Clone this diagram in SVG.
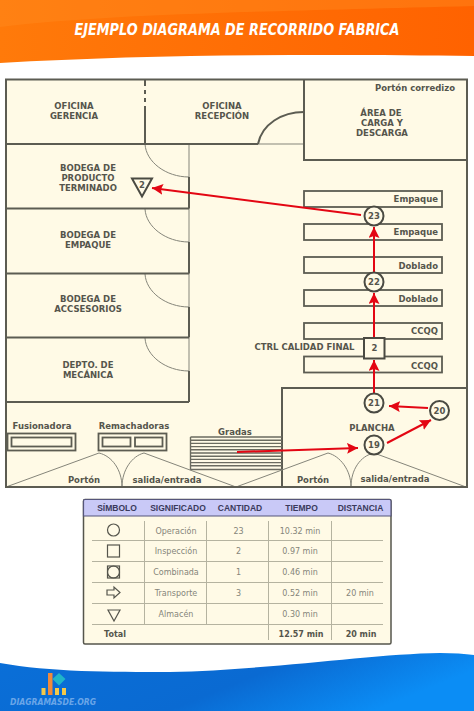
<svg xmlns="http://www.w3.org/2000/svg" width="474" height="711" viewBox="0 0 474 711">
<style>
text{font-family:"DejaVu Sans","Liberation Sans",sans-serif;}
.l{font-size:8.500px;font-weight:700;fill:#55554c;text-anchor:middle;}
.r{text-anchor:end;}
.w{fill:none;stroke:#5c5c52;stroke-width:2;}
.t{fill:none;stroke:#85857a;stroke-width:1;}
.n{fill:#fffae6;stroke:#4a4a42;stroke-width:2;}
.f{stroke:#e30613;stroke-width:2;fill:none;marker-end:url(#a);}
.h{font-family:"Liberation Sans",Arial,sans-serif;font-size:8.500px;font-weight:700;fill:#3a3a5c;text-anchor:middle;}
.c{font-size:8px;fill:#85857a;text-anchor:middle;}
.b{font-size:8px;font-weight:700;fill:#55554c;text-anchor:middle;}
.g{stroke:#b5b3a0;stroke-width:1;fill:none;}
.s{fill:none;stroke:#55554c;stroke-width:1.200;}
</style>
<defs>
<linearGradient id="o" x1="0" y1="0" x2="1" y2="0"><stop offset="0" stop-color="#ff7a0a"/><stop offset="1" stop-color="#ff6200"/></linearGradient>
<linearGradient id="u" x1="0" y1="0" x2="1" y2="0.3"><stop offset="0" stop-color="#0a6fd8"/><stop offset="0.6" stop-color="#0a6ad2"/><stop offset="1" stop-color="#0b8df5"/></linearGradient>
<marker id="a" markerUnits="userSpaceOnUse" markerWidth="12" markerHeight="12" refX="11" refY="5.500" orient="auto"><path d="M0 0L11 5.500L0 11L2 5.500Z" fill="#e30613"/></marker>
</defs>
<rect width="474" height="711" fill="#fff"/>
<g id="banner">
<path d="M0 0H474V56C330 54 150 54 0 63Z" fill="url(#o)"/>
<path d="M0 27C110 14 250 12 474 6V0H0Z" fill="#ff8a1e" opacity=".45"/>
<text x="237" y="35" text-anchor="middle" font-size="15" font-weight="700" font-style="italic" fill="#fff" textLength="325" lengthAdjust="spacingAndGlyphs">EJEMPLO DIAGRAMA DE RECORRIDO FABRICA</text>
</g>
<g id="footer">
<path d="M0 663C50 672 110 672 170 672C270 670 370 654 440 653Q460 653 474 655V711H0Z" fill="url(#u)"/>
<g>
<rect x="41.500" y="688" width="4" height="7" fill="#f4c84a"/>
<rect x="48" y="673" width="4.500" height="22" fill="#f08a3c"/>
<rect x="55" y="688" width="4" height="7" fill="#f4c84a"/>
<rect x="62" y="688" width="4" height="7" fill="#f4c84a"/>
<path d="M59 673L65.500 679L59 685.500L52.500 679Z" fill="#1fb5c9"/>
</g>
<text x="53" y="705" text-anchor="middle" font-size="8" font-weight="700" font-style="italic" fill="#6aa6e8" textLength="86" lengthAdjust="spacingAndGlyphs">DIAGRAMASDE.ORG</text>
</g>
<g id="plano">
<rect x="6" y="79.500" width="461" height="407.500" fill="#fffae6"/>
<g id="puertas">
<path class="t" d="M258 144H304M189 144V177M189 208V242M189 273V307M189 338V371"/>
<path class="t" d="M145 144C146 162 166 177 189 177M145 209C146 227 166 242 189 242M145 274C146 292 166 307 189 307M145 338C146 356 166 371 189 371"/>
<path class="w" d="M258 144C262 124 282 112 304 112"/>
</g>
<path class="w" d="M6 144H258M145 79.500V86M145 90V94M145 98V102M145 106V144M304 79.500V160H467M6 208.500H189M6 273.500H189M6 337.500H189M6 402H189M189 177V208.500M189 242V273.500M189 307V337.500M189 371V402M282 487V388H467"/>
<g id="gradas" stroke="#6b6b60" stroke-width="1.400">
<path d="M190.500 437H282M190.500 440.200H282M190.500 443.400H282M190.500 446.600H282M190.500 449.800H282M190.500 453H282M190.500 456.200H282M190.500 459.400H282M190.500 462.600H282M190.500 465.800H282M190.500 469.500H282M190.500 437V470"/>
</g>
<g id="portones">
<path class="t" d="M6 487L99 453C112 456 122 470 122 487C122 470 132 456 144 453L236 487L328 453C340 456 351 470 351 487C351 470 360 456 374 453L466 487"/>
</g>
<g id="estaciones" fill="none" stroke="#5c5c52" stroke-width="1.800">
<rect x="304" y="191" width="138" height="16"/>
<rect x="304" y="224" width="138" height="16"/>
<rect x="304" y="257" width="138" height="16"/>
<rect x="304" y="290" width="138" height="16"/>
<rect x="304" y="323" width="138" height="16"/>
<rect x="304" y="356.500" width="138" height="16"/>
</g>
<g id="maquinas" fill="none" stroke="#5c5c52" stroke-width="1.800">
<rect x="7.500" y="433.500" width="68" height="17"/><rect x="11.500" y="437.500" width="60" height="9"/>
<rect x="98.500" y="433.500" width="68" height="17"/><rect x="102.500" y="437.500" width="28" height="9"/><rect x="135" y="437.500" width="27.500" height="9"/>
</g>
<rect x="6" y="79.500" width="461" height="407.500" class="w"/>
<g>
<text class="l r" x="455" y="90.500">Portón corredizo</text>
<text class="l" x="74" y="109">OFICINA</text><text class="l" x="74" y="119">GERENCIA</text>
<text class="l" x="222" y="109">OFICINA</text><text class="l" x="222" y="119">RECEPCIÓN</text>
<text class="l" x="381" y="116">ÁREA DE</text><text class="l" x="382" y="126">CARGA Y</text><text class="l" x="382" y="136">DESCARGA</text>
<text class="l" x="88" y="171">BODEGA DE</text><text class="l" x="88" y="181">PRODUCTO</text><text class="l" x="88" y="191">TERMINADO</text>
<text class="l" x="88" y="248">EMPAQUE</text><text class="l" x="88" y="238">BODEGA DE</text>
<text class="l" x="88" y="302">BODEGA DE</text><text class="l" x="88" y="312">ACCSESORIOS</text>
<text class="l" x="88" y="368">DEPTO. DE</text><text class="l" x="88" y="378">MECÁNICA</text>
<text class="l r" x="438" y="202">Empaque</text><text class="l r" x="438" y="235">Empaque</text>
<text class="l r" x="438" y="269">Doblado</text><text class="l r" x="438" y="302">Doblado</text>
<text class="l r" x="438" y="334">CCQQ</text><text class="l r" x="438" y="369">CCQQ</text>
<text class="l" x="304.500" y="350">CTRL CALIDAD FINAL</text>
<text class="l" x="42" y="429">Fusionadora</text><text class="l" x="134" y="429">Remachadoras</text>
<text class="l" x="235" y="435">Gradas</text><text class="l" x="372" y="431">PLANCHA</text>
<text class="l" x="84" y="482.500">Portón</text><text class="l" x="167" y="482.500">salida/entrada</text>
<text class="l" x="313" y="482.500">Portón</text><text class="l" x="395" y="481.500">salida/entrada</text>
</g>
</g>
<g id="conectores">
<path class="f" d="M361 215L152 188"/>
<path class="f" d="M374 272V227"/>
<path class="f" d="M374 338V293"/>
<path class="f" d="M374 393V360"/>
<path class="f" d="M428 408L389 406"/>
<path class="f" d="M387 443L431 420"/>
<path class="f" d="M237 452L358 448"/>
</g>
<g id="nodo-almacen"><path class="n" d="M132 178.500H152L142 196.500Z"/><text class="l" x="142" y="188">2</text></g>
<g id="nodo-23"><circle class="n" cx="374" cy="216" r="9.500"/><text class="l" x="374" y="219">23</text></g>
<g id="nodo-22"><circle class="n" cx="374" cy="282" r="9.500"/><text class="l" x="374" y="285">22</text></g>
<g id="nodo-ctrl"><rect class="n" x="364" y="338" width="20.500" height="20.500"/><text class="l" x="374.500" y="351">2</text></g>
<g id="nodo-21"><circle class="n" cx="374" cy="403" r="9.500"/><text class="l" x="374" y="406">21</text></g>
<g id="nodo-20"><circle class="n" cx="439.500" cy="410.500" r="9.500"/><text class="l" x="439.500" y="413.500">20</text></g>
<g id="nodo-19"><circle class="n" cx="374" cy="445" r="9.500"/><text class="l" x="374" y="448">19</text></g>
<g id="tabla">
<rect x="83.500" y="499.500" width="307.500" height="144.500" rx="1.500" fill="#fffae6" stroke="#55554c" stroke-width="1.500"/>
<path d="M83.500 516V501Q83.500 499.500 85 499.500H389.500Q391 499.500 391 501V516Z" fill="#c9c9f7" stroke="#55557a" stroke-width="1.200"/>
<path class="g" d="M92 540.500H383M92 561.500H383M92 582.500H383M92 603.500H383M92 624.500H383M144.500 521V624M206.500 521V624M268.500 521V640M331.500 521V640"/>
<text class="h" x="117" y="511">SÍMBOLO</text><text class="h" x="178" y="511">SIGNIFICADO</text><text class="h" x="240" y="511">CANTIDAD</text><text class="h" x="301.500" y="511">TIEMPO</text><text class="h" x="360.500" y="511">DISTANCIA</text>
<circle class="s" cx="113.500" cy="530" r="6"/>
<rect class="s" x="107.500" y="545" width="12" height="12"/>
<rect class="s" x="107.500" y="566" width="12" height="12"/><circle class="s" cx="113.500" cy="572" r="6"/>
<path class="s" d="M107 590H114V587L120 592.500L114 598V595H107Z"/>
<path class="s" d="M108 610H120L114 621Z"/>
<text class="c" x="176" y="533.500">Operación</text><text class="c" x="176" y="554">Inspección</text><text class="c" x="176" y="575">Combinada</text><text class="c" x="176" y="596">Transporte</text><text class="c" x="176" y="616.500">Almacén</text>
<text class="c" x="238.500" y="533.500">23</text><text class="c" x="238.500" y="554">2</text><text class="c" x="238.500" y="575">1</text><text class="c" x="238.500" y="596">3</text>
<text class="c" x="300" y="533.500">10.32 min</text><text class="c" x="300" y="554">0.97 min</text><text class="c" x="300" y="575">0.46 min</text><text class="c" x="300" y="596">0.52 min</text><text class="c" x="300" y="616.500">0.30 min</text>
<text class="c" x="360" y="596">20 min</text>
<text class="b" x="115" y="637">Total</text><text class="b" x="301" y="637">12.57 min</text><text class="b" x="361" y="637">20 min</text>
</g>
</svg>
